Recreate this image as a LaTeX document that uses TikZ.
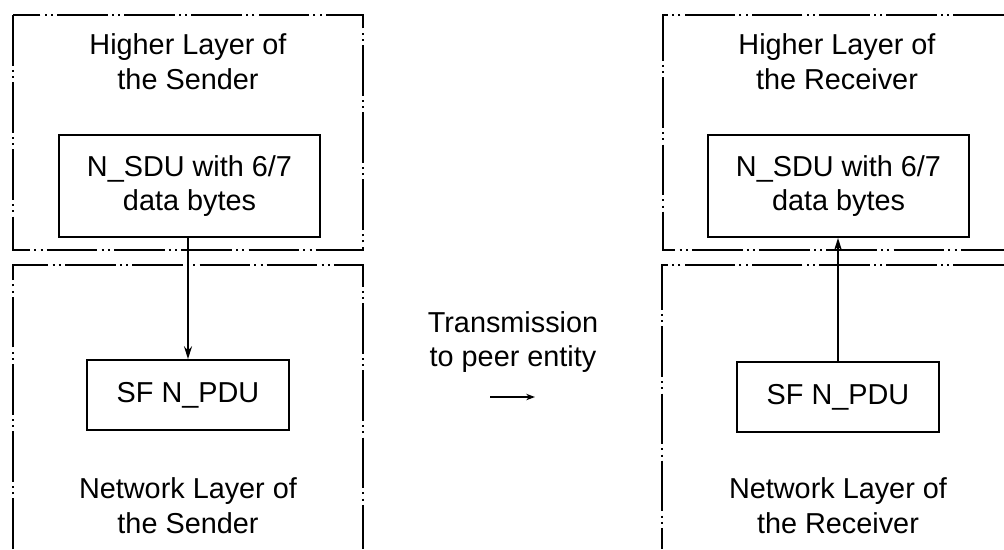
\documentclass[tikz,border=0pt]{standalone}
\usepackage{fontspec}
\setmainfont{Liberation Sans}
\usetikzlibrary{arrows.meta}

\begin{document}
\begin{tikzpicture}[
  x=0.025cm, y=-0.025cm,
  layer/.style={line width=1.8pt, line join=miter,
    dash pattern=on 36pt off 3pt on 1.4pt off 3pt on 1.4pt off 3pt},
  unit/.style={draw, line width=1.3pt, align=center, inner sep=2pt,
    font=\fontsize{20.5}{24.8}\selectfont},
  lab/.style={align=center, font=\fontsize{20.5}{24.8}\selectfont},
  pass/.style={-{Stealth[length=3.2mm, width=2mm]}, line width=1.3pt}
]
  \useasboundingbox (0,0) rectangle (1004,549);

  % --- layer frames (sender left, receiver right) -----------------------
  \draw[layer] (13,15) rectangle (363,250);
  \draw[layer] (13,549) -- (13,265) -- (363,265) -- (363,549);
  \draw[layer] (1004,15) -- (663,15) -- (663,250) -- (1004,250);
  \draw[layer] (1004,265) -- (662,265) -- (662,549);

  % --- sender ------------------------------------------------------------
  \node[lab] (hlS) at (188,62) {Higher Layer of\\the Sender};
  \node[unit, minimum width=6.525cm, minimum height=2.55cm]
    (sduS) at (189.5,186) {N\_SDU with 6/7\\data bytes};
  \node[unit, minimum width=5.05cm, minimum height=1.75cm]
    (pduS) at (188,395) {SF N\_PDU};
  \node[lab] (nlS) at (188,506) {Network Layer of\\the Sender};
  \draw[pass] (sduS.south -| pduS) -- (pduS.north);

  % --- receiver ----------------------------------------------------------
  \node[lab] (hlR) at (837,62) {Higher Layer of\\the Receiver};
  \node[unit, minimum width=6.525cm, minimum height=2.55cm]
    (sduR) at (838.5,186) {N\_SDU with 6/7\\data bytes};
  \node[unit, minimum width=5.05cm, minimum height=1.75cm]
    (pduR) at (838,397) {SF N\_PDU};
  \node[lab] (nlR) at (838,506) {Network Layer of\\the Receiver};
  \draw[pass] (pduR.north) -- (pduR.north |- sduR.south);

  % --- transmission between the peers -----------------------------------
  \node[lab] (tx) at (513,342) {Transmission\\to peer entity};
  \coordinate (txA) at (490,397);
  \coordinate (txB) at (535,397);
  \draw[-{Stealth[length=2.2mm, width=1.6mm]}, line width=1.8pt] (txA) -- (txB);
\end{tikzpicture}
\end{document}
